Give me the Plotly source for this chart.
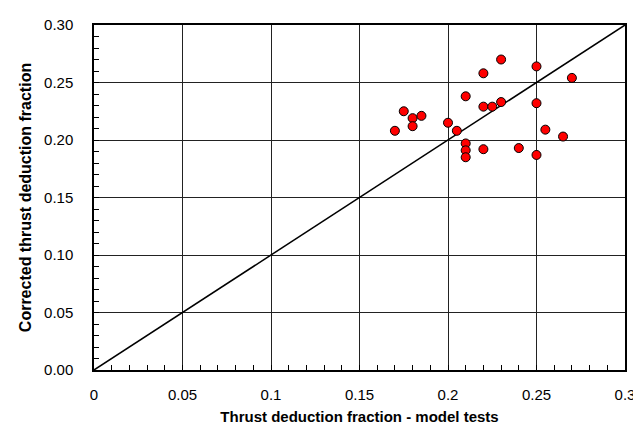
import plotly.graph_objects as go

# Data
model_tests = [0.23, 0.25, 0.22, 0.27, 0.21, 0.23, 0.22, 0.225, 0.25, 0.175,
               0.18, 0.185, 0.18, 0.17, 0.20, 0.205, 0.255, 0.265, 0.21, 0.21,
               0.21, 0.22, 0.24, 0.25]
corrected = [0.270, 0.264, 0.258, 0.254, 0.238, 0.233, 0.229, 0.229, 0.232, 0.225,
             0.219, 0.221, 0.212, 0.208, 0.215, 0.208, 0.209, 0.203, 0.197, 0.191,
             0.185, 0.192, 0.193, 0.187]
diag_x = [0.0, 0.3]
diag_y = [0.0, 0.3]

x_ticks = [0, 0.05, 0.1, 0.15, 0.2, 0.25, 0.3]
x_labels = ["0", "0.05", "0.1", "0.15", "0.2", "0.25", "0.3"]
y_ticks = [0, 0.05, 0.1, 0.15, 0.2, 0.25, 0.3]
y_labels = ["0.00", "0.05", "0.10", "0.15", "0.20", "0.25", "0.30"]

fig = go.Figure()
fig.add_trace(go.Scatter(x=diag_x, y=diag_y, mode="lines",
                         line=dict(color="black", width=1.5),
                         hoverinfo="skip", showlegend=False))
fig.add_trace(go.Scatter(x=model_tests, y=corrected, mode="markers",
                         marker=dict(color="#ff0000", size=9,
                                     line=dict(color="black", width=1)),
                         showlegend=False, cliponaxis=False))

font = "Liberation Sans, Arial, sans-serif"
axis_common = dict(
    showline=True, linecolor="black", linewidth=1.5, mirror=True,
    showgrid=True, gridcolor="#222222", gridwidth=1,
    zeroline=False, ticks="inside", ticklen=0, tickcolor="black",
    tickfont=dict(family=font, size=15, color="black"),
    minor=dict(ticks="inside", ticklen=5, tickcolor="black", dtick=0.01, showgrid=False),
    automargin=False,
)

fig.update_layout(
    width=641, height=430,
    margin=dict(l=86, r=24, t=17, b=68),
    paper_bgcolor="white", plot_bgcolor="white",
    font=dict(family=font, size=15, color="black"),
    xaxis=dict(range=[0, 0.3], tickvals=x_ticks, ticktext=x_labels,
               ticklabelstandoff=10,
               title=dict(text="<b>Thrust deduction fraction - model tests</b>",
                          font=dict(family=font, size=15), standoff=10),
               **axis_common),
    yaxis=dict(range=[0, 0.3], tickvals=y_ticks, ticktext=y_labels,
               ticklabelstandoff=16,
               title=dict(text="<b>Corrected thrust deduction fraction</b>",
                          font=dict(family=font, size=16), standoff=8),
               **axis_common),
)

fig.write_html("out.html")
